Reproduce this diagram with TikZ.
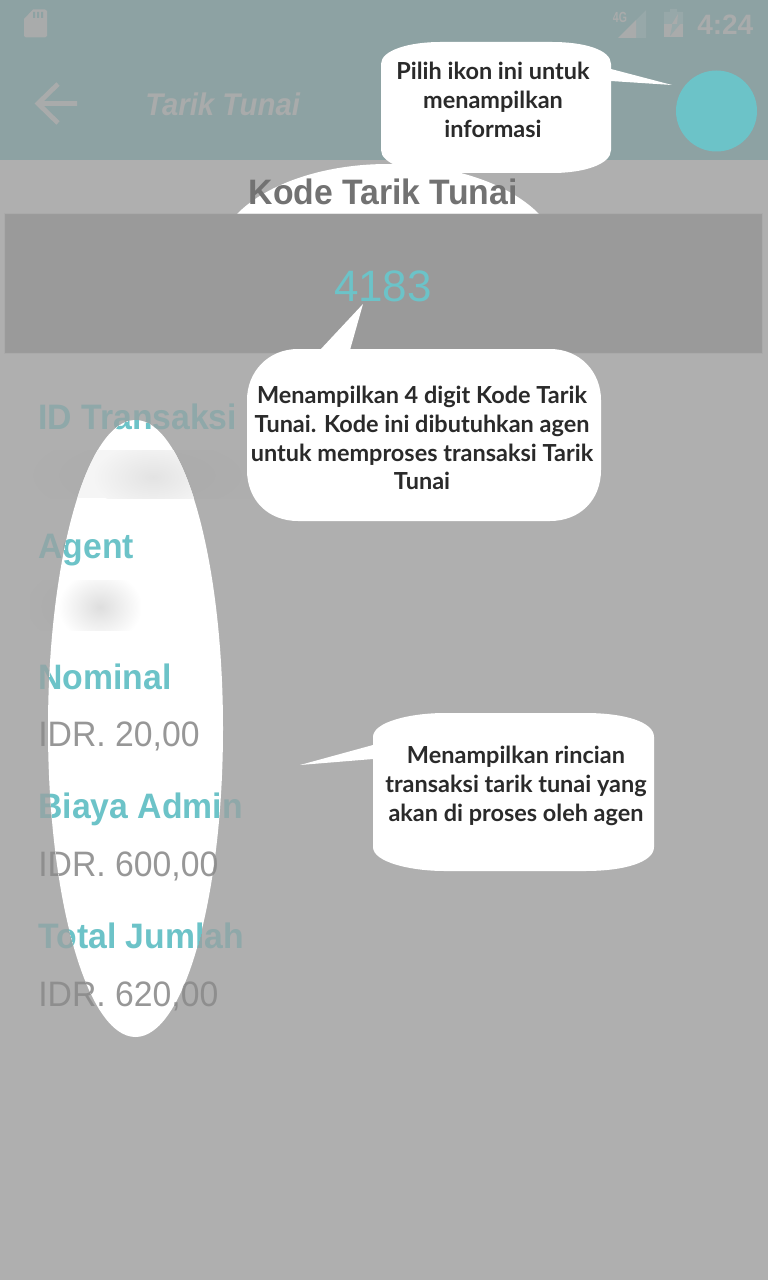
\documentclass[tikz,border=0pt]{standalone}
\usepackage{fontspec}
\setmainfont{Liberation Sans}[FakeStretch=0.955]
\newfontfamily\plainfont{Liberation Sans}
\newfontfamily\titlefont{Liberation Sans}[FakeStretch=0.935]
\newfontfamily\calloutfont{Lato}[BoldFont={Lato Bold}]
\usetikzlibrary{shapes.geometric}
\definecolor{pagebg}{HTML}{AFAFAF}
\definecolor{headbg}{HTML}{8DA2A3}
\definecolor{iconfg}{HTML}{A9ABAB}
\definecolor{iconfaint}{HTML}{97A8A9}
\definecolor{codebg}{HTML}{9A9A9A}
\definecolor{teal}{HTML}{6CC3C8}
\definecolor{tealdim}{HTML}{8FA8A9}
\definecolor{valdim}{HTML}{8E8E8E}
\definecolor{valbright}{HTML}{979797}
\definecolor{inktext}{HTML}{2A2A2A}
\definecolor{headtext}{HTML}{727272}
\definecolor{blurdim}{HTML}{AAAAAA}
\tikzset{
  bubble/.style={fill=white,draw=none},
  lbl/.style={anchor=base west,inner sep=0pt,font=\bfseries\fontsize{26.5}{30}\selectfont},
  val/.style={anchor=base west,inner sep=0pt,font=\fontsize{26.5}{30}\selectfont},
  calltext/.style={align=center,inner sep=0pt,text=inktext,
    font=\calloutfont\bfseries\fontsize{17.6}{21.6}\selectfont},
}
% all field texts, #1 = prefix, #2 = label colour, #3 = value colour
\newcommand{\fieldtexts}[3]{%
  \node[lbl,text=#2] (#1a) at (38,429) {ID Transaksi};
  \node[lbl,text=#2] (#1b) at (38,558) {Agent};
  \node[lbl,text=#2] (#1c) at (38,689) {Nominal};
  \node[val,text=#3] (#1d) at (38,746) {IDR. 20,00};
  \node[lbl,text=#2] (#1e) at (38,818) {Biaya Admin};
  \node[val,text=#3] (#1f) at (38,876) {IDR. 600,00};
  \node[lbl,text=#2] (#1g) at (38,948) {Total Jumlah};
  \node[val,text=#3] (#1h) at (38,1006) {IDR. 620,00};
}
\begin{document}
\begin{tikzpicture}[x=0.75pt,y=-0.75pt]
\useasboundingbox (0,0) rectangle (768,1280);
% backgrounds
\fill[pagebg] (0,0) rectangle (768,1280);
\fill[headbg] (0,0) rectangle (768,160);
% status bar
\fill[iconfg] (24,19) -- (33,9.5) -- (45,9.5) -- (47,11) -- (47,36) -- (45,37.5) -- (26,37.5) -- (24,36) -- cycle;
\fill[headbg] (33,12) rectangle (35,18) (37,12) rectangle (39,18) (41,12) rectangle (43,18);
\node[inner sep=0pt,anchor=base,text=iconfg,font=\plainfont\bfseries\fontsize{11}{12}\selectfont] (fourg) at (620,22.5) {\scalebox{.72}[1]{4G}};
\fill[iconfaint] (646,10) -- (646,38) -- (618,38) -- cycle;
\fill[iconfg] (618,38) -- (636,20) -- (636,38) -- cycle;
\fill[iconfaint] (670,9) rectangle (677,12) (664,12) rectangle (683,37);
\fill[iconfg] (664,24) rectangle (683,37);
\fill[iconfaint] (672,24) -- (680,24) -- (670,36) -- (672,27) -- cycle;
\fill[iconfg] (672,24) -- (678,14) -- (677,24) -- cycle;
\node[inner sep=0pt,anchor=base west,text=iconfg,font=\plainfont\bfseries\fontsize{21}{24}\selectfont] (clock) at (697,35) {4:24};
% back arrow and title
\draw[iconfg,line width=3.6pt] (58,84) -- (38,103.5) -- (58,123) (38,103.5) -- (77,103.5);
\node[inner sep=0pt,anchor=base west,text=iconfg,font=\titlefont\bfseries\itshape\fontsize{23.5}{26}\selectfont] (title) at (145,116) {Tarik Tunai};
% teal info circle
\fill[teal] (716.5,111) ellipse [x radius=40.5,y radius=40.5];
% spot behind the heading
\fill[white] (388,260) ellipse [x radius=172,y radius=96];
% heading
\node[lbl,text=headtext,anchor=base] (kode) at (383,205) {Kode Tarik Tunai};
% code band
\fill[codebg] (5,214) rectangle (762,353);
\draw[gray!75,opacity=.25,line width=.8pt] (5,214) rectangle (762,353);
\node[inner sep=0pt,anchor=base,text=teal,font=\plainfont\fontsize{33}{36}\selectfont] (code) at (383,301.5) {4183};
% faint blurred rows outside the spotlight
\begin{scope}
  \clip (30,450) rectangle (250,498);
  \shade[inner color=blurdim,outer color=pagebg] (150,475) ellipse [x radius=130,y radius=50];
\end{scope}
\begin{scope}
  \clip (30,580) rectangle (140,630);
  \shade[inner color=blurdim,outer color=pagebg] (90,606) ellipse [x radius=70,y radius=45];
\end{scope}
% field rows, dim copy
\fieldtexts{d}{tealdim}{valdim}
% spotlight with bright copy
\begin{scope}
  \clip (135.5,728.5) ellipse [x radius=87.5,y radius=308.5];
  \fill[white] (0,400) rectangle (300,1100);
  \fill[black!4] (30,450) rectangle (250,498);
  \begin{scope}
    \clip (30,450) rectangle (250,498);
    \shade[inner color=black!11,outer color=black!4] (153,477) ellipse [x radius=60,y radius=34];
  \end{scope}
  \begin{scope}
    \clip (30,580) rectangle (140,630);
    \shade[inner color=black!13,outer color=white] (100,607) ellipse [x radius=42,y radius=36];
  \end{scope}
  \fieldtexts{b}{teal}{valbright}
\end{scope}
% callout 1
\fill[bubble] (611,69) -- (672,85) -- (611,81) -- cycle;
\fill[bubble] (381,64) .. controls (381,50) and (410,42) .. (440,42)
  -- (552,42) .. controls (585,42) and (611,50) .. (611,64)
  -- (611,150) .. controls (611,164) and (585,173) .. (552,173)
  -- (440,173) .. controls (410,173) and (381,164) .. (381,150) -- cycle;
\node[calltext] (tipa) at (493,100) {Pilih ikon ini untuk\\menampilkan\\informasi};
% callout 2
\fill[bubble] (320,350) -- (363,304) -- (350,350) -- cycle;
\fill[bubble] (298,349) -- (550,349) .. controls (580,349) and (601,372) .. (601,400)
  -- (601,470) .. controls (601,500) and (580,521) .. (550,521)
  -- (298,521) .. controls (268,521) and (247,500) .. (247,470)
  -- (247,400) .. controls (247,372) and (268,349) .. (298,349) -- cycle;
\node[calltext] (tipb) at (422,438) {Menampilkan 4 digit Kode Tarik\\Tunai. Kode ini dibutuhkan agen\\untuk memproses transaksi Tarik\\Tunai};
% callout 3
\fill[bubble] (373,745) -- (300,765) -- (373,759) -- cycle;
\fill[bubble] (373,737) .. controls (373,722) and (410,713) .. (445,713)
  -- (585,713) .. controls (625,713) and (654,722) .. (654,737)
  -- (654,847) .. controls (654,862) and (625,871) .. (585,871)
  -- (445,871) .. controls (410,871) and (373,862) .. (373,847) -- cycle;
\node[calltext] (tipc) at (516,786) {Menampilkan rincian\\transaksi tarik tunai yang\\akan di proses oleh agen};
\end{tikzpicture}
\end{document}
